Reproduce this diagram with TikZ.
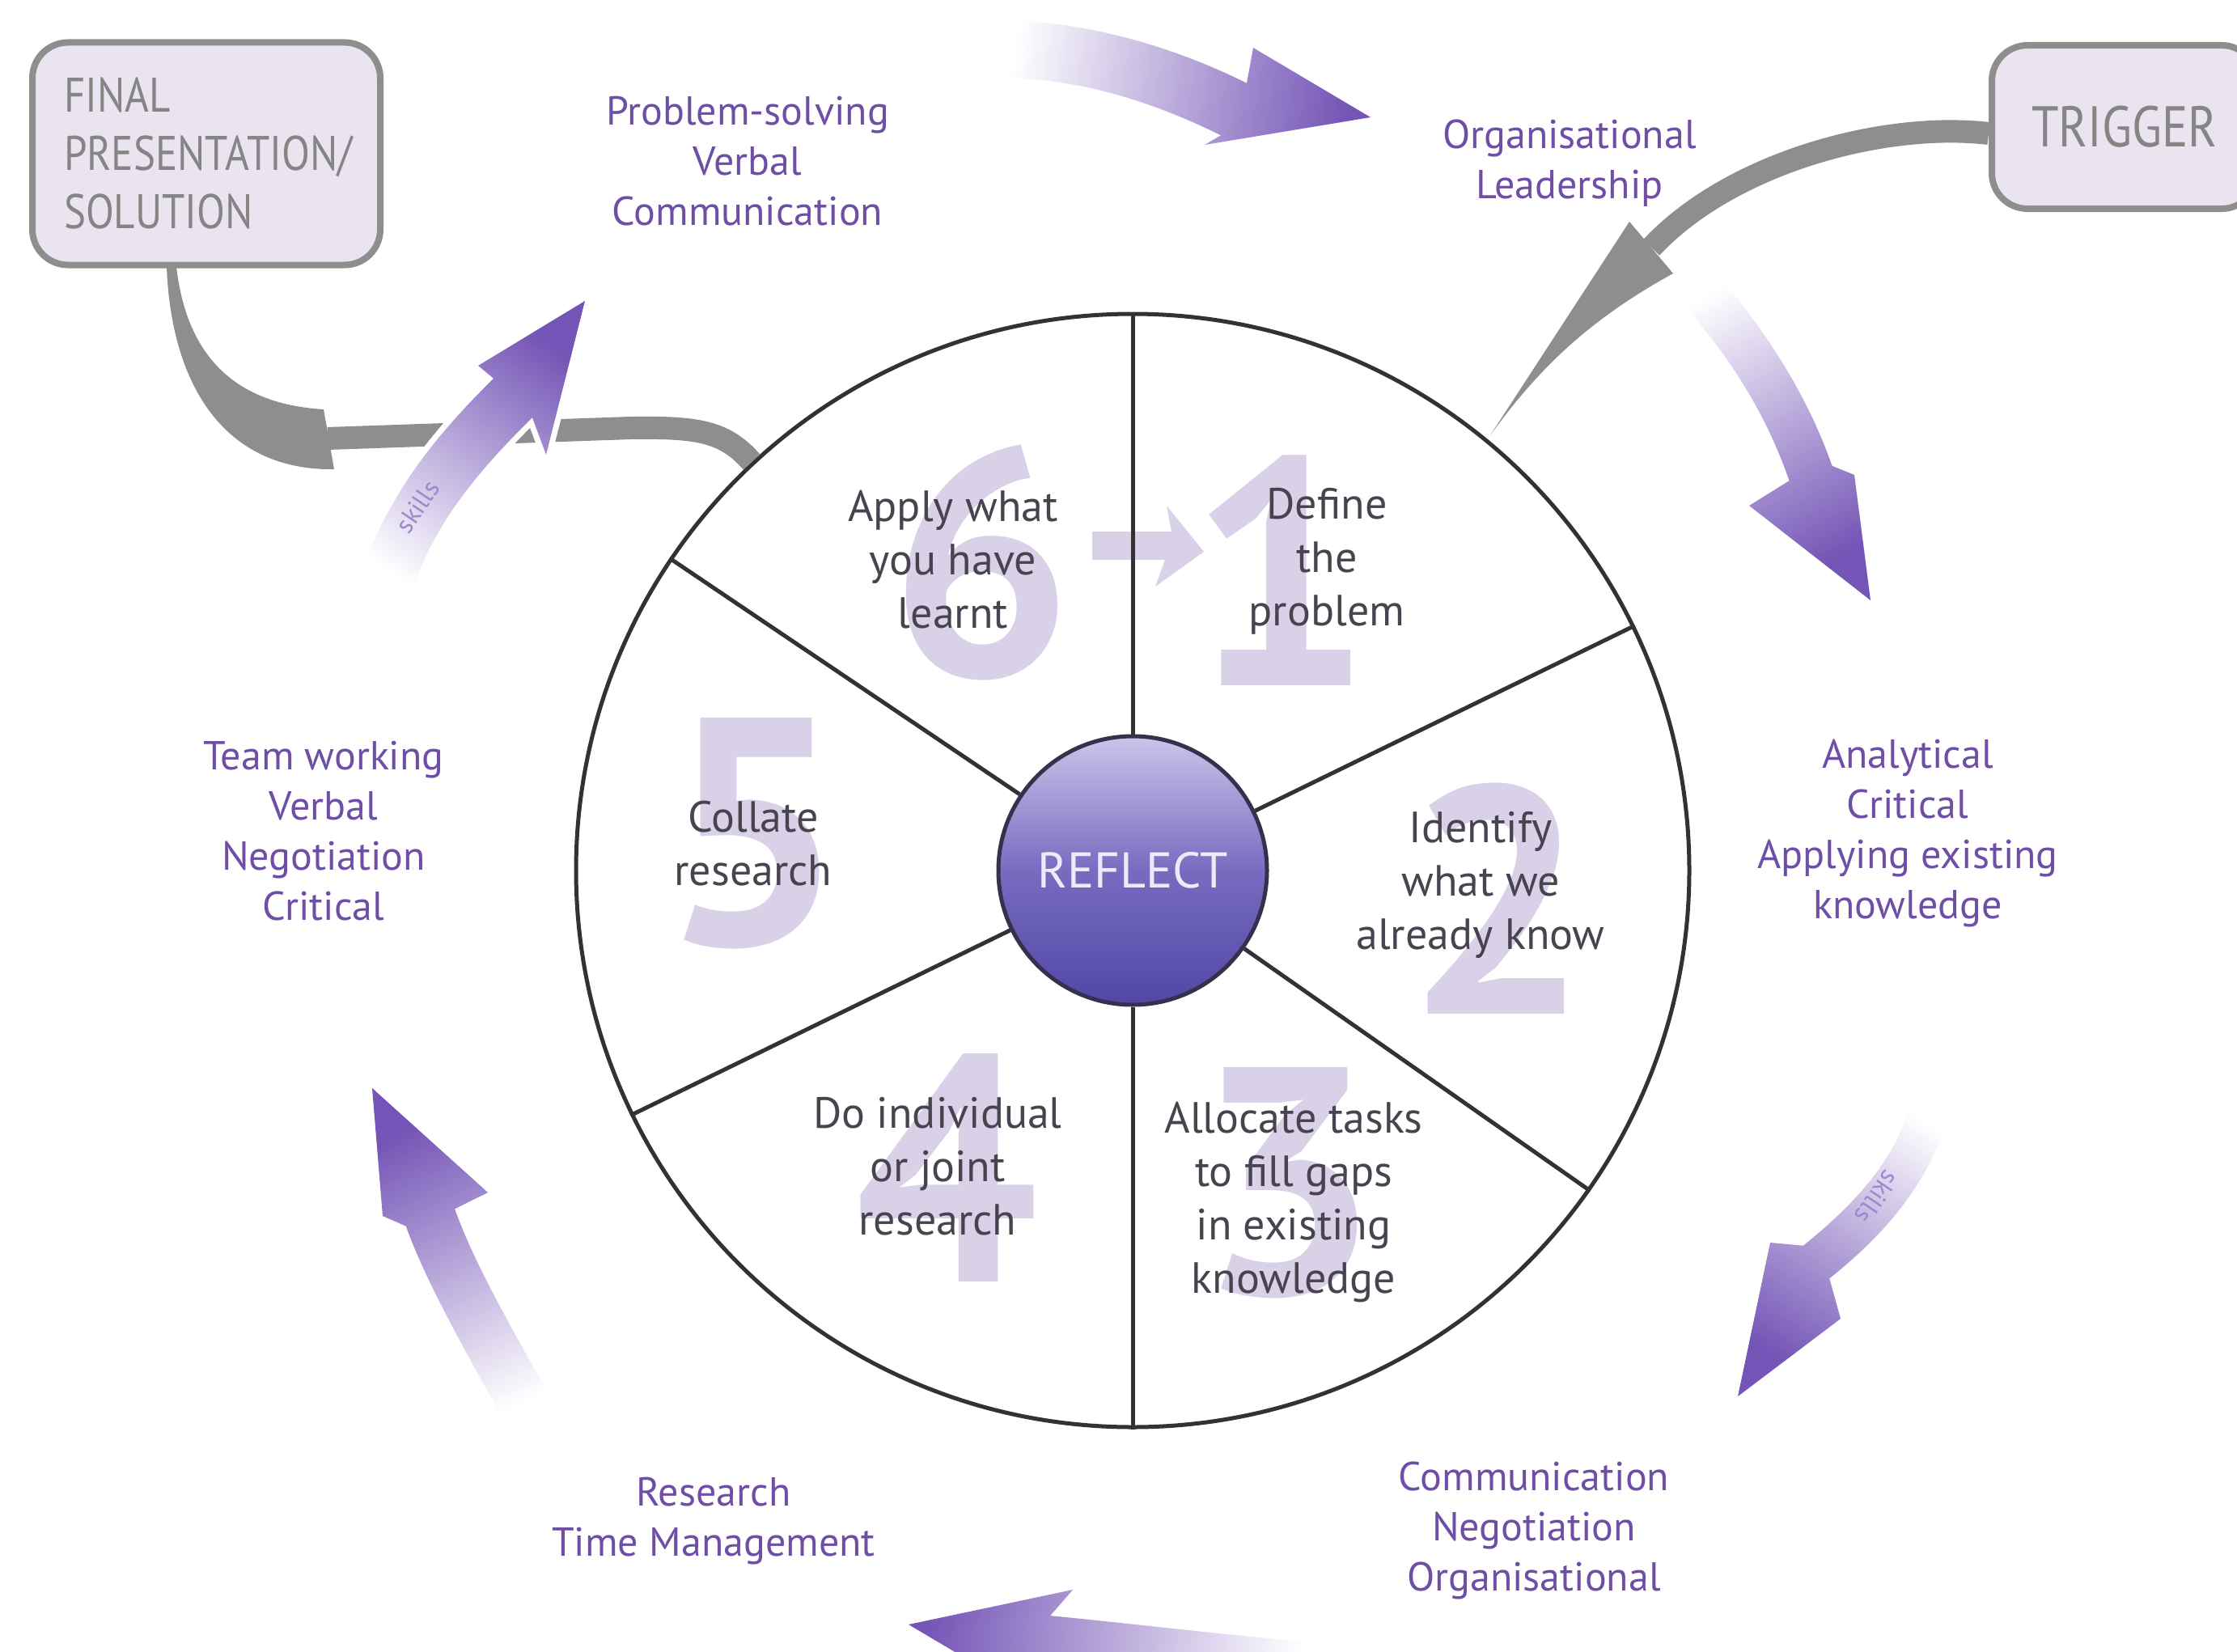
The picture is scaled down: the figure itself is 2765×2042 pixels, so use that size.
\documentclass[tikz,border=0pt]{standalone}
\usepackage{fontspec}
\setmainfont{PT Sans}
\newfontfamily\boxfont[FakeStretch=0.85]{PT Sans}
\usetikzlibrary{calc}

\definecolor{segtext}{HTML}{48444F}
\definecolor{skilltext}{HTML}{6F4FA6}
\definecolor{numshade}{HTML}{D9D1E8}
\definecolor{arrowpurple}{HTML}{7454B6}
\definecolor{graybar}{HTML}{8E8E8E}
\definecolor{boxfill}{HTML}{EAE4F0}
\definecolor{boxtext}{HTML}{858585}
\definecolor{wheelline}{HTML}{333036}
\definecolor{hubline}{HTML}{35304C}
\definecolor{hubtop}{HTML}{CAC5EA}
\definecolor{hubmid}{HTML}{776CC0}
\definecolor{hubbot}{HTML}{5246A6}
\definecolor{reflecttext}{HTML}{EEEBF9}

% curved fat arrow: [style]{tail}{ctrl1}{ctrl2}{head base}{half width}{barb left}{tip}{barb right}
\newcommand\swoosh[9][]{%
  \shade[#1] ($(#2)!#6!90:(#3)$)
    .. controls ($(#3)!#6!90:(#4)$) and ($(#4)!#6!90:(#5)$) .. ($(#5)!#6!-90:(#4)$)
    -- (#7) -- (#8) -- (#9)
    -- ($(#5)!#6!90:(#4)$)
    .. controls ($(#4)!#6!-90:(#5)$) and ($(#3)!#6!-90:(#4)$) .. ($(#2)!#6!-90:(#3)$)
    -- cycle;}

\begin{document}
\begin{tikzpicture}[x=1pt, y=-1pt,
  seg/.style={font=\fontsize{54}{66}\selectfont, text=segtext, align=center, inner sep=0pt},
  skill/.style={font=\fontsize{50}{62}\selectfont, text=skilltext, align=center, inner sep=0pt},
  bignum/.style={font=\fontsize{400}{400}\selectfont\bfseries, text=numshade, inner sep=0pt},
  stagebox/.style={draw=graybar, line width=8pt, fill=boxfill, rounded corners=44pt, text=boxtext, inner sep=0pt},
  fade/.style={top color=arrowpurple, middle color=arrowpurple!55!white, bottom color=white, shading angle=#1},
  tinytext/.style={font=\fontsize{32}{32}\selectfont, text=arrowpurple!70!white, inner sep=0pt}
]
\useasboundingbox (0,0) rectangle (2765,2042);
\fill[white] (0,0) rectangle (2765,2042);

% large step numbers behind the wheel
\node[bignum] (n1) at (1583,705) {1};
\node[bignum] (n2) at (1851,1111) {2};
\node[bignum] (n3) at (1592,1462) {3};
\node[bignum] (n4) at (1170,1443) {4};
\node[bignum] (n5) at (932,1030) {5};
\node[bignum] (n6) at (1213,695) {6};
\fill[numshade] (1350,657) -- (1448,657) -- (1442,625) -- (1488,682) -- (1428,725) -- (1440,692) -- (1350,692) -- cycle;

% the wheel
\node[circle, draw=wheelline, line width=5pt, minimum size=1376pt, inner sep=0pt] (wheel) at (1400,1076) {};
\node[circle, minimum size=332pt, inner sep=0pt, draw=hubline, line width=5pt,
      top color=hubtop, bottom color=hubbot, middle color=hubmid,
      font=\fontsize{62}{62}\selectfont, text=reflecttext] (hub) at (1400,1076) {REFLECT};
\foreach \a in {90,26.5,-35,270,206.5,146}
  \draw[wheelline, line width=5pt] (hub.\a) -- (wheel.\a);

% step texts
\node[seg] (s1) at (1640,694) {Define\\the\\problem};
\node[seg] (s2) at (1830,1094) {Identify\\what we\\already know};
\node[seg] (s3) at (1599,1486) {Allocate tasks\\to fill gaps\\in existing\\knowledge};
\node[seg] (s4) at (1159,1442) {Do individual\\or joint\\research};
\node[seg] (s5) at (931,1043) {Collate\\research};
\node[seg] (s6) at (1178,692) {Apply what\\you have\\learnt};

% start and end boxes
\node[stagebox, minimum width=430pt, minimum height=275pt, text width=352pt, align=left,
      font=\boxfont\fontsize{60}{72}\selectfont] (final) at (255,190) {FINAL\\PRESENTATION/\\SOLUTION};
\node[stagebox, minimum width=328pt, minimum height=202pt,
      font=\boxfont\fontsize{71}{80}\selectfont] (trigger) at (2626,157) {TRIGGER};

% grey connector: wheel to final presentation
\coordinate (finTip) at (212,330);
\draw[graybar, line width=28pt] (wheel.133.3) .. controls (895,532) and (860,528) .. (780,529) -- (405,542);
\fill[graybar] (400,506) .. controls (300,500) and (232,450) .. ([xshift=6pt]finTip)
  -- ([xshift=-6pt]finTip) .. controls (212,480) and (280,582) .. (413,580) -- cycle;

% grey connector: trigger to wheel
\coordinate (trigTip) at (1842,538);
\draw[graybar, line width=28pt] (trigger.west |- 0,165) .. controls (2330,150) and (2140,200) .. (2041,306);
\fill[graybar] (2014,274) -- (trigTip) .. controls (1895,465) and (1955,400) .. (2068,338) -- cycle;

% skill arrows around the wheel
\swoosh[top color=white, bottom color=white, draw=white, line width=14pt]{468,748}{500,640}{555,570}{634,492}{34pt}{591,452}{723,372}{675,562}
\swoosh[fade=-35]{468,748}{500,640}{555,570}{634,492}{34pt}{591,452}{723,372}{675,562}
\swoosh[fade=-100]{1225,60}{1330,60}{1430,88}{1525,135}{36pt}{1549,59}{1694,145}{1489,179}
\swoosh[fade=-151]{2082,335}{2150,410}{2205,490}{2238,585}{28pt}{2292,587}{2312,742}{2162,625}
\swoosh[fade=148]{2392,1335}{2380,1430}{2320,1500}{2245,1560}{26pt}{2275,1630}{2148,1726}{2188,1536}
\swoosh[fade=84]{1625,2063}{1520,2055}{1400,2040}{1295,2030}{33pt}{1270,2095}{1123,2008}{1326,1965}
\swoosh[fade=26]{665,1765}{600,1650}{555,1570}{532,1505}{32pt}{473,1503}{460,1345}{603,1474}
\node[tinytext, rotate=56] (skillsA) at (516,626) {skills};
\node[tinytext, rotate=-124] (skillsD) at (2320,1480) {skills};

% skill labels
\node[skill] (k1) at (924,199) {Problem-solving\\Verbal\\Communication};
\node[skill] (k2) at (1940,202) {Organisational\\Leadership};
\node[skill] (k3) at (2358,1030) {Analytical\\Critical\\Applying existing\\knowledge};
\node[skill] (k4) at (1896,1892) {Communication\\Negotiation\\Organisational};
\node[skill] (k5) at (882,1880) {Research\\Time Management};
\node[skill] (k6) at (400,1027) {Team working\\Verbal\\Negotiation\\Critical};
\end{tikzpicture}
\end{document}
